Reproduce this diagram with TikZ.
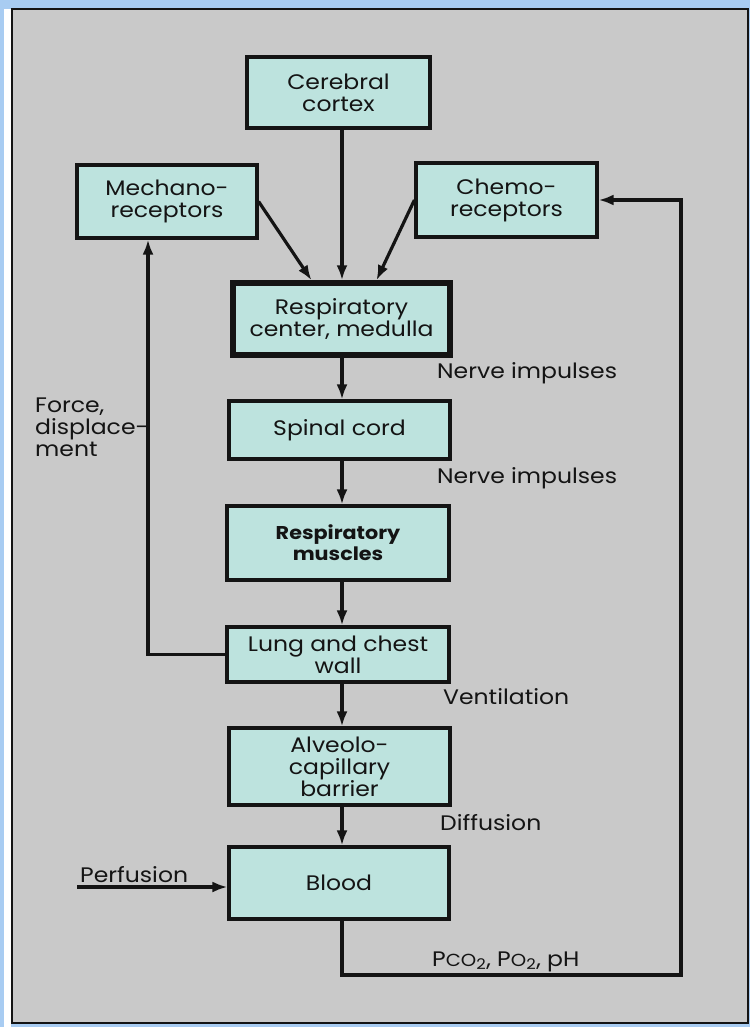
\documentclass[tikz,border=0pt]{standalone}
\usepackage{fontspec}
\setmainfont{Poppins}[FakeStretch=1.12]
\usetikzlibrary{arrows.meta,calc}
\definecolor{bgblue}{RGB}{168,204,242}
\definecolor{panelgray}{RGB}{201,201,201}
\definecolor{boxfill}{RGB}{189,227,222}
\definecolor{inkc}{RGB}{20,20,20}
\newcommand{\fsA}{\fontsize{21}{22}\selectfont}
\newcommand{\fsB}{\fontsize{18.5}{21}\selectfont\bfseries}
\tikzset{
  box/.style={draw=inkc, line width=3.2pt, fill=boxfill, align=center, inner sep=0pt, font=\fsA, text=inkc},
  arr/.style={draw=inkc, line width=3.2pt, -{Latex[length=15pt,width=11pt]}},
  lbl/.style={font=\fsA, inner sep=0pt, text=inkc}
}
\begin{document}
\begin{tikzpicture}[x=1pt,y=-1pt]
\useasboundingbox (0,0) rectangle (750,1027);
% background
\fill[bgblue] (0,0) rectangle (750,1027);
\fill[white] (4,9) rectangle (11,1027);
\draw[fill=panelgray, draw=inkc, line width=2.8pt] (12,9) rectangle (748,1023);
% boxes
\node[box, minimum width=183pt, minimum height=71pt] (cortex) at (338.5,92.5) {Cerebral\\cortex};
\node[box, minimum width=180pt, minimum height=73pt] (mech) at (167,201.5) {Mechano-\\receptors};
\node[box, minimum width=181pt, minimum height=74pt] (chemo) at (506.5,200) {Chemo-\\receptors};
\node[box, line width=5.5pt, minimum width=217pt, minimum height=72pt] (center) at (341.5,319) {Respiratory\\center, medulla};
\node[box, minimum width=221pt, minimum height=58pt] (spinal) at (339.5,430) {Spinal cord};
\node[box, font=\fsB, minimum width=222pt, minimum height=74pt] (muscles) at (338,543) {Respiratory\\muscles};
\node[box, minimum width=222pt, minimum height=55pt] (lung) at (338,654.5) {Lung and chest\\wall};
\node[box, minimum width=221pt, minimum height=77pt] (alveolo) at (339.5,766.5) {Alveolo-\\capillary\\barrier};
\node[box, minimum width=220pt, minimum height=72pt] (blood) at (339,883) {Blood};
% helper coordinates
\coordinate (ax) at (342,0);
\coordinate (loopc) at (681,975);
\coordinate (perf) at (77,887);
% arrows
\draw[arr] (cortex.south -| ax) -- (center.north -| ax);
\draw[arr] (mech.east) -- ([xshift=-30pt]center.north);
\draw[arr] (chemo.west) -- ([xshift=35pt]center.north);
\draw[arr] (center.south -| ax) -- (spinal.north -| ax);
\draw[arr] (spinal.south -| ax) -- (muscles.north -| ax);
\draw[arr] (muscles.south -| ax) -- (lung.north -| ax);
\draw[arr] (lung.south -| ax) -- (alveolo.north -| ax);
\draw[arr] (alveolo.south -| ax) -- (blood.north -| ax);
\draw[arr] (lung.west) -| ([xshift=-19pt]mech.south);
\draw[arr] (blood.south -| ax) |- (loopc) |- (chemo.east);
\draw[arr] (perf) -- (perf -| blood.west);
% labels
\node[lbl, anchor=west] (n1) at (437,373) {Nerve impulses};
\node[lbl, anchor=west] (n2) at (437,478) {Nerve impulses};
\node[lbl, anchor=west] (vent) at (443,697) {Ventilation};
\node[lbl, anchor=west] (diff) at (440,823) {Diffusion};
\node[lbl, anchor=north west, align=left] (force) at (35,398) {Force,\\displace-\\ment};
\node[lbl, anchor=base west] (perfl) at (80,882) {Perfusion};
\node[lbl, anchor=base west] (gases) at (432,966) {P{\fontsize{17.5}{17.5}\selectfont CO}\textsubscript{2}, P{\fontsize{17.5}{17.5}\selectfont O}\textsubscript{2}, pH};
\end{tikzpicture}
\end{document}
